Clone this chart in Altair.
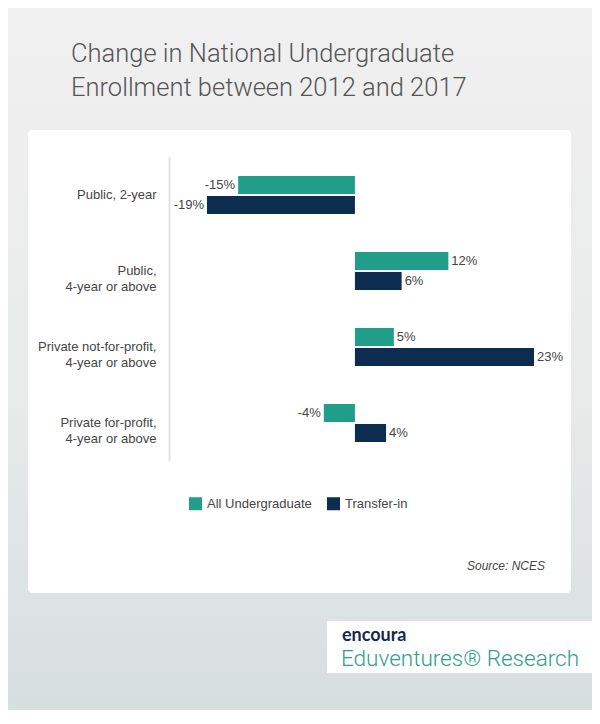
import altair as alt
import pandas as pd

# ---- data ----
categories = [
    "Public, 2-year",
    "Public,\n4-year or above",
    "Private not-for-profit,\n4-year or above",
    "Private for-profit,\n4-year or above",
]
series = ["All Undergraduate", "Transfer-in"]
all_undergraduate = [-15, 12, 5, -4]
transfer_in = [-19, 6, 23, 4]

title_lines = ["Change in National Undergraduate", "Enrollment between 2012 and 2017"]
source_note = ["Source: NCES"]
brand_small = ["encoura"]
brand_large = ["Eduventures\u00ae Research"]

rows = []
for c, a, t in zip(categories, all_undergraduate, transfer_in):
    rows.append({"category": c, "series": series[0], "value": a})
    rows.append({"category": c, "series": series[1], "value": t})
df = pd.DataFrame(rows)

W, H = 543, 463
FONT = "Liberation Sans"
TXT = "#454545"

x_enc = alt.X("value:Q", axis=None,
              scale=alt.Scale(domain=[-19, 23], range=[179, 506], nice=False, zero=False))
y_axis = alt.Axis(title=None, offset=-141, domainColor="#e3e3e3", domainWidth=2,
                  ticks=False, grid=False, labelExpr="split(datum.label, '\\n')",
                  labelFontSize=13, labelColor=TXT, labelFont=FONT, labelPadding=13,
                  labelLineHeight=16, labelLimit=250, zindex=1)
y_enc = alt.Y("category:N", sort=categories, axis=y_axis,
              scale=alt.Scale(domain=categories, range=[27, 331], paddingInner=0, paddingOuter=0))
yoff_enc = alt.YOffset("series:N", sort=series,
                       scale=alt.Scale(domain=series, paddingInner=0.1, paddingOuter=0.95))

base = alt.Chart(df).transform_calculate(label="datum.value + '%'")

bars = base.mark_bar().encode(
    x=x_enc,
    x2=alt.datum(0),
    y=y_enc,
    yOffset=yoff_enc,
    color=alt.Color("series:N", sort=series,
                    scale=alt.Scale(domain=series, range=["#219e8a", "#0c2d4f"]),
                    legend=alt.Legend(title=None, orient="none", legendX=161, legendY=367,
                                      direction="horizontal", symbolType="square",
                                      symbolSize=169, symbolStrokeWidth=0,
                                      labelFontSize=13, labelColor=TXT, labelFont=FONT,
                                      columnPadding=15, labelOffset=5)),
)

pos_labels = base.transform_filter("datum.value >= 0").mark_text(
    align="left", dx=3, fontSize=13, color=TXT, font=FONT
).encode(x=x_enc, y=y_enc, yOffset=yoff_enc, text="label:N")

neg_labels = base.transform_filter("datum.value < 0").mark_text(
    align="right", dx=-3, fontSize=13, color=TXT, font=FONT
).encode(x=x_enc, y=y_enc, yOffset=yoff_enc, text="label:N")

one = pd.DataFrame({"k": [0]})

# page background (SVG kept inside the 600x724 window)
bg = alt.Chart(one).mark_rect(
    fill=alt.Gradient(gradient="linear",
                      stops=[alt.GradientStop(color="#f0f0f0", offset=0),
                             alt.GradientStop(color="#e9eaea", offset=0.55),
                             alt.GradientStop(color="#d7dede", offset=1)],
                      x1=0, x2=0, y1=0, y2=1)
).encode(x=alt.value(-20), x2=alt.value(564), y=alt.value(-122), y2=alt.value(580))

card = alt.Chart(one).mark_rect(fill="white", cornerRadius=4).encode(
    x=alt.value(0), x2=alt.value(W), y=alt.value(0), y2=alt.value(H))

logo_box = alt.Chart(one).mark_rect(fill="white").encode(
    x=alt.value(299), x2=alt.value(564), y=alt.value(491), y2=alt.value(543))

title = alt.Chart(pd.DataFrame({"t": ["\n".join(title_lines)]})).mark_text(
    align="left", baseline="alphabetic", lineBreak="\n", lineHeight=34,
    fontSize=25.5, fontWeight=300, font="Roboto", color="#555555"
).encode(x=alt.value(43), y=alt.value(-68), text="t:N")

src = alt.Chart(pd.DataFrame({"t": source_note})).mark_text(
    align="right", baseline="alphabetic", fontSize=12, fontStyle="italic", color=TXT, font=FONT
).encode(x=alt.value(517), y=alt.value(440), text="t:N")

logo1 = alt.Chart(pd.DataFrame({"t": brand_small})).mark_text(
    align="left", baseline="alphabetic", fontSize=18, fontWeight="bold", color="#13294b", font="Lato"
).encode(x=alt.value(314), y=alt.value(511), text="t:N")

logo2 = alt.Chart(pd.DataFrame({"t": brand_large})).mark_text(
    align="left", baseline="alphabetic", fontSize=22.5, fontWeight=300, color="#2f9e8c", font="Roboto"
).encode(x=alt.value(313), y=alt.value(536), text="t:N")

chart = alt.layer(bg, card, logo_box, title, bars, pos_labels, neg_labels, src, logo1, logo2).properties(
    width=W, height=H, padding=0,
).configure_view(stroke=None).configure(background="#e9eaea")

chart.save("out.html", embed_options={"renderer": "svg", "actions": False})
